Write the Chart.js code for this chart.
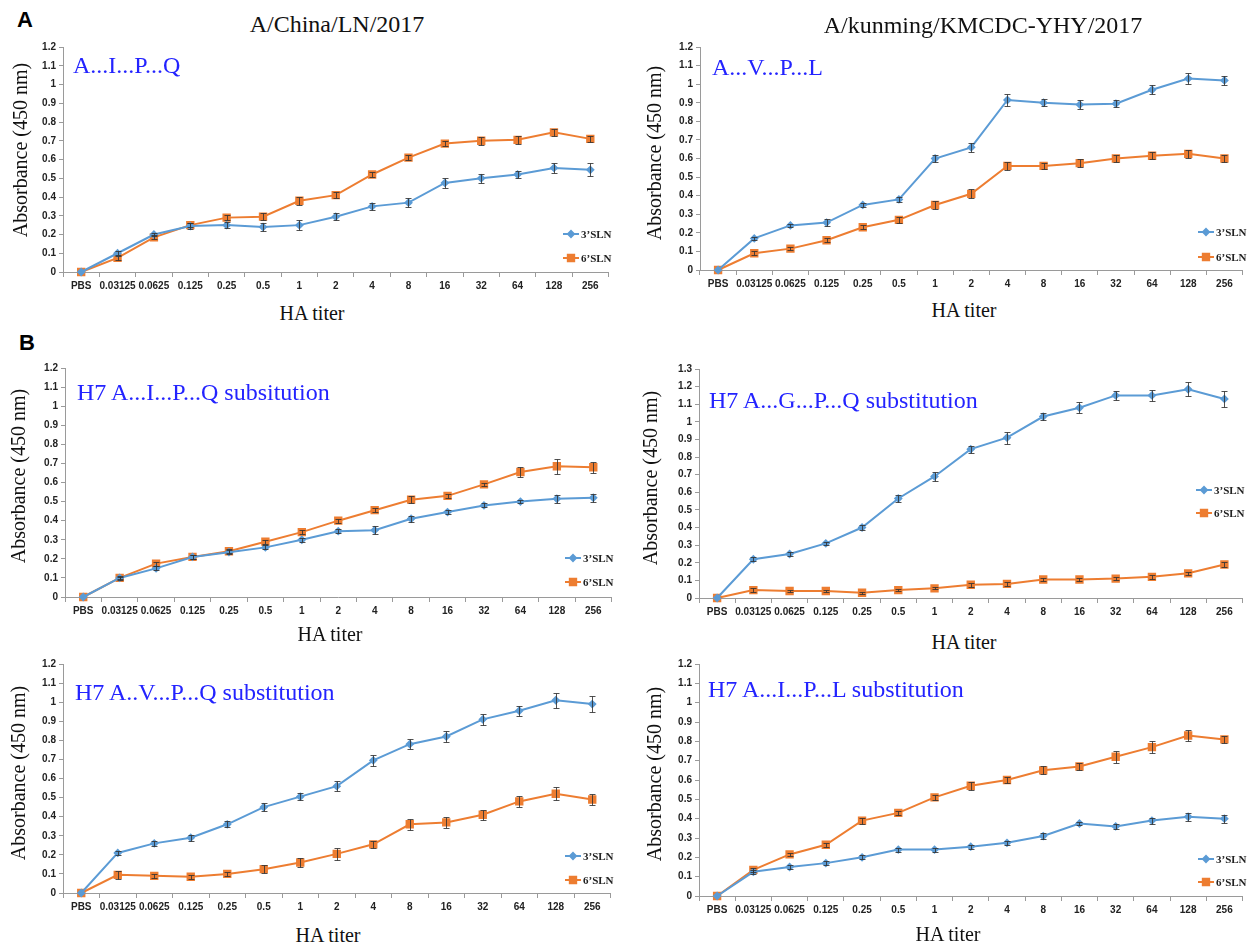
<!DOCTYPE html>
<html>
<head>
<meta charset="utf-8">
<script src="https://cdn.jsdelivr.net/npm/chart.js@4.4.1/dist/chart.umd.min.js"></script>
<style>
body { margin:0; background:#fff; width:1249px; height:945px; position:relative; overflow:hidden; font-family:"Liberation Serif", serif; }
.box { position:absolute; }
.t { position:absolute; white-space:nowrap; transform:translate(-50%,-50%); color:#111; font-size:24px; line-height:1; }
.ytitle { font-size:20px; transform:translate(-50%,-50%) rotate(-90deg); }
.xtitle { font-size:20px; }
.note { position:absolute; white-space:nowrap; transform:translateY(-50%); color:#2323ff; font-size:24px; line-height:1; }
.letter { position:absolute; font-family:"Liberation Sans", sans-serif; font-weight:bold; font-size:22px; transform:translate(-50%,-50%); line-height:1; }
</style>
</head>
<body>

<script>
const titers = ['PBS', '0.03125', '0.0625', '0.125', '0.25', '0.5', '1', '2', '4', '8', '16', '32', '64', '128', '256'];
const series = ['3\u2019SLN', '6\u2019SLN'];

// A/China/LN/2017
const ln3 = [0, 0.10, 0.20, 0.245, 0.25, 0.24, 0.25, 0.295, 0.35, 0.37, 0.475, 0.50, 0.52, 0.555, 0.545];
const ln3Err = [0, 0.01, 0.01, 0.015, 0.015, 0.02, 0.025, 0.02, 0.02, 0.025, 0.025, 0.025, 0.02, 0.025, 0.035];
const ln6 = [0, 0.075, 0.185, 0.25, 0.29, 0.295, 0.38, 0.41, 0.52, 0.61, 0.685, 0.70, 0.705, 0.745, 0.71];
const ln6Err = [0, 0.01, 0.01, 0.01, 0.015, 0.02, 0.02, 0.015, 0.015, 0.015, 0.015, 0.02, 0.02, 0.02, 0.015];

// A/kunming/KMCDC-YHY/2017
const km3 = [0, 0.17, 0.24, 0.255, 0.35, 0.38, 0.60, 0.66, 0.915, 0.90, 0.89, 0.895, 0.97, 1.03, 1.02];
const km3Err = [0, 0.01, 0.01, 0.02, 0.01, 0.015, 0.02, 0.025, 0.03, 0.02, 0.025, 0.02, 0.025, 0.03, 0.025];
const km6 = [0, 0.09, 0.115, 0.16, 0.23, 0.27, 0.35, 0.41, 0.56, 0.56, 0.575, 0.60, 0.615, 0.625, 0.60];
const km6Err = [0, 0.01, 0.01, 0.01, 0.01, 0.015, 0.02, 0.025, 0.02, 0.015, 0.02, 0.02, 0.02, 0.02, 0.02];

// H7 A...I...P...Q
const ipq3 = [0, 0.10, 0.15, 0.21, 0.235, 0.26, 0.30, 0.345, 0.35, 0.41, 0.445, 0.48, 0.50, 0.515, 0.52];
const ipq3Err = [0, 0.005, 0.01, 0.01, 0.01, 0.01, 0.01, 0.01, 0.02, 0.015, 0.01, 0.01, 0.01, 0.02, 0.02];
const ipq6 = [0, 0.10, 0.175, 0.21, 0.24, 0.29, 0.34, 0.40, 0.455, 0.51, 0.53, 0.59, 0.655, 0.685, 0.68];
const ipq6Err = [0, 0.01, 0.01, 0.01, 0.01, 0.01, 0.01, 0.01, 0.01, 0.02, 0.01, 0.01, 0.025, 0.04, 0.03];

// H7 A...G...P...Q
const gpq3 = [0, 0.22, 0.25, 0.31, 0.40, 0.565, 0.69, 0.845, 0.91, 1.03, 1.08, 1.15, 1.15, 1.185, 1.13];
const gpq3Err = [0, 0.01, 0.01, 0.01, 0.015, 0.02, 0.025, 0.02, 0.035, 0.02, 0.03, 0.025, 0.03, 0.04, 0.045];
const gpq6 = [0, 0.045, 0.04, 0.04, 0.03, 0.045, 0.055, 0.075, 0.08, 0.105, 0.105, 0.11, 0.12, 0.14, 0.19];
const gpq6Err = [0, 0.01, 0.005, 0.005, 0.005, 0.005, 0.005, 0.01, 0.01, 0.01, 0.01, 0.01, 0.01, 0.01, 0.015];

// H7 A..V...P...Q
const vpq3 = [0, 0.21, 0.26, 0.29, 0.36, 0.45, 0.505, 0.56, 0.695, 0.78, 0.82, 0.91, 0.955, 1.01, 0.99];
const vpq3Err = [0, 0.01, 0.015, 0.015, 0.015, 0.02, 0.02, 0.025, 0.03, 0.025, 0.03, 0.03, 0.025, 0.04, 0.04];
const vpq6 = [0, 0.095, 0.09, 0.085, 0.10, 0.125, 0.16, 0.205, 0.255, 0.36, 0.37, 0.41, 0.48, 0.52, 0.49];
const vpq6Err = [0, 0.02, 0.01, 0.01, 0.01, 0.02, 0.025, 0.03, 0.02, 0.03, 0.03, 0.025, 0.03, 0.035, 0.03];

// H7 A...I...P...L
const ipl3 = [0, 0.125, 0.15, 0.17, 0.20, 0.24, 0.24, 0.255, 0.275, 0.31, 0.375, 0.36, 0.39, 0.41, 0.40];
const ipl3Err = [0, 0.01, 0.01, 0.01, 0.01, 0.01, 0.01, 0.01, 0.01, 0.015, 0.01, 0.015, 0.015, 0.02, 0.02];
const ipl6 = [0, 0.135, 0.215, 0.265, 0.39, 0.43, 0.51, 0.57, 0.60, 0.65, 0.67, 0.72, 0.77, 0.83, 0.81];
const ipl6Err = [0, 0.01, 0.01, 0.01, 0.015, 0.01, 0.015, 0.02, 0.015, 0.02, 0.02, 0.03, 0.03, 0.03, 0.02];

const blue = '#5b9bd5';
const orange = '#ed7d31';

// area = [left, top, right, bottom] of the plot in page pixels, legend = [x, y3, y6]
const panels = [
    { area: [63, 47, 615, 272], yMax: 1.2, s3: ln3, e3: ln3Err, s6: ln6, e6: ln6Err, legend: [563, 234, 258] },
    { area: [700, 47, 1249, 270], yMax: 1.2, s3: km3, e3: km3Err, s6: km6, e6: km6Err, legend: [1198, 232, 257] },
    { area: [65, 368, 618, 597], yMax: 1.2, s3: ipq3, e3: ipq3Err, s6: ipq6, e6: ipq6Err, legend: [565, 558, 582] },
    { area: [699, 369, 1249, 598], yMax: 1.3, s3: gpq3, e3: gpq3Err, s6: gpq6, e6: gpq6Err, legend: [1196, 490, 513] },
    { area: [63, 664, 617, 893], yMax: 1.2, s3: vpq3, e3: vpq3Err, s6: vpq6, e6: vpq6Err, legend: [565, 856, 880] },
    { area: [699, 664, 1249, 896], yMax: 1.2, s3: ipl3, e3: ipl3Err, s6: ipl6, e6: ipl6Err, legend: [1198, 859, 882] }
];

const Y_W = 42, X_H = 28, PAD_T = 10;

const errorBars = {
    id: 'errorBars',
    afterDatasetsDraw(chart) {
        const ctx = chart.ctx;
        const yScale = chart.scales.y;
        chart.data.datasets.forEach((ds, i) => {
            const meta = chart.getDatasetMeta(i);
            ctx.save();
            ctx.strokeStyle = 'rgba(50,50,50,0.85)';
            ctx.lineWidth = 1;
            meta.data.forEach((pt, j) => {
                const e = ds.errors[j];
                if (!e) return;
                const top = Math.round(yScale.getPixelForValue(ds.data[j] + e)) + 0.5;
                const bot = Math.round(yScale.getPixelForValue(ds.data[j] - e)) + 0.5;
                const x = Math.round(pt.x) + 0.5;
                ctx.beginPath();
                ctx.moveTo(x, top); ctx.lineTo(x, bot);
                ctx.moveTo(x - 3, top); ctx.lineTo(x + 3, top);
                ctx.moveTo(x - 3, bot); ctx.lineTo(x + 3, bot);
                ctx.stroke();
            });
            ctx.restore();
        });
    }
};

const miniLegend = {
    id: 'miniLegend',
    afterDraw(chart, args, opts) {
        const ctx = chart.ctx;
        chart.data.datasets.forEach((ds, i) => {
            const x = opts.x, y = opts.ys[i];
            ctx.save();
            ctx.strokeStyle = ds.borderColor;
            ctx.lineWidth = 2;
            ctx.beginPath();
            ctx.moveTo(x, y); ctx.lineTo(x + 16, y);
            ctx.stroke();
            ctx.fillStyle = ds.borderColor;
            Chart.helpers.drawPoint(ctx, { pointStyle: ds.pointStyle, radius: ds.pointRadius, rotation: 0, borderWidth: 1 }, x + 8, y);
            ctx.fillStyle = '#222';
            ctx.font = 'bold 11px "Liberation Serif"';
            ctx.textBaseline = 'middle';
            ctx.fillText(ds.label, x + 18, y + 1);
            ctx.restore();
        });
    }
};

Chart.defaults.font.family = '"Liberation Sans", sans-serif';

panels.forEach(p => {
    const [l, t, r, b] = p.area;
    const boxL = l - Y_W, boxT = t - PAD_T;
    const w = r - boxL, h = b + X_H - boxT;
    const div = document.createElement('div');
    div.className = 'box';
    div.style.left = boxL + 'px';
    div.style.top = boxT + 'px';
    div.innerHTML = '<canvas width="' + w + '" height="' + h + '"></canvas>';
    document.body.appendChild(div);
    const ctx = div.querySelector('canvas');

    new Chart(ctx, {
        type: 'line',
        data: {
            labels: titers,
            datasets: [
                { label: series[0], data: p.s3, errors: p.e3, borderColor: blue, backgroundColor: blue,
                  borderWidth: 2, pointStyle: 'rectRot', pointRadius: 3, clip: false },
                { label: series[1], data: p.s6, errors: p.e6, borderColor: orange, backgroundColor: orange,
                  borderWidth: 2, pointStyle: 'rect', pointRadius: 4.5, clip: false }
            ]
        },
        options: {
            responsive: false,
            animation: false,
            devicePixelRatio: 1,
            layout: { padding: { top: PAD_T, left: 0, right: 0, bottom: 0 } },
            plugins: {
                legend: { display: false },
                tooltip: { enabled: false },
                miniLegend: { x: p.legend[0] - boxL, ys: [p.legend[1] - boxT, p.legend[2] - boxT] }
            },
            scales: {
                x: {
                    offset: true,
                    afterFit: s => { s.height = X_H; },
                    border: { color: '#9a9a9a' },
                    grid: { offset: true, drawOnChartArea: false, tickLength: 5, color: '#9a9a9a' },
                    ticks: { autoSkip: false, maxRotation: 0, padding: 3, color: '#222', font: { size: 10, weight: 'bold' } }
                },
                y: {
                    min: 0,
                    max: p.yMax,
                    afterFit: s => { s.width = Y_W; },
                    border: { color: '#9a9a9a' },
                    grid: { drawOnChartArea: false, tickLength: 4, color: '#9a9a9a' },
                    ticks: { stepSize: 0.1, autoSkip: false, padding: 3, color: '#222', font: { size: 10, weight: 'bold' },
                             callback: v => String(Math.round(v * 10) / 10) }
                }
            }
        },
        plugins: [errorBars, miniLegend]
    });
});
</script>

<div class="letter" style="left:25px;top:20px;">A</div>
<div class="letter" style="left:27px;top:343px;">B</div>

<div class="t" style="left:337px;top:24px;">A/China/LN/2017</div>
<div class="t" style="left:983px;top:25px;">A/kunming/KMCDC-YHY/2017</div>

<div class="note" style="left:73px;top:65px;">A...I...P...Q</div>
<div class="note" style="left:712px;top:67px;">A...V...P...L</div>
<div class="note" style="left:77px;top:392px;">H7 A...I...P...Q subsitution</div>
<div class="note" style="left:709px;top:400px;">H7 A...G...P...Q substitution</div>
<div class="note" style="left:75px;top:692px;">H7 A..V...P...Q substitution</div>
<div class="note" style="left:708px;top:689px;">H7 A...I...P...L substitution</div>

<div class="t ytitle" style="left:20px;top:150px;">Absorbance (450 nm)</div>
<div class="t ytitle" style="left:654px;top:153px;">Absorbance (450 nm)</div>
<div class="t ytitle" style="left:18px;top:476px;">Absorbance (450 nm)</div>
<div class="t ytitle" style="left:650px;top:478px;">Absorbance (450 nm)</div>
<div class="t ytitle" style="left:18px;top:773px;">Absorbance (450 nm)</div>
<div class="t ytitle" style="left:654px;top:774px;">Absorbance (450 nm)</div>

<div class="t xtitle" style="left:312px;top:313px;">HA titer</div>
<div class="t xtitle" style="left:964px;top:310px;">HA titer</div>
<div class="t xtitle" style="left:330px;top:634px;">HA titer</div>
<div class="t xtitle" style="left:964px;top:642px;">HA titer</div>
<div class="t xtitle" style="left:328px;top:935px;">HA titer</div>
<div class="t xtitle" style="left:948px;top:934px;">HA titer</div>

</body>
</html>
